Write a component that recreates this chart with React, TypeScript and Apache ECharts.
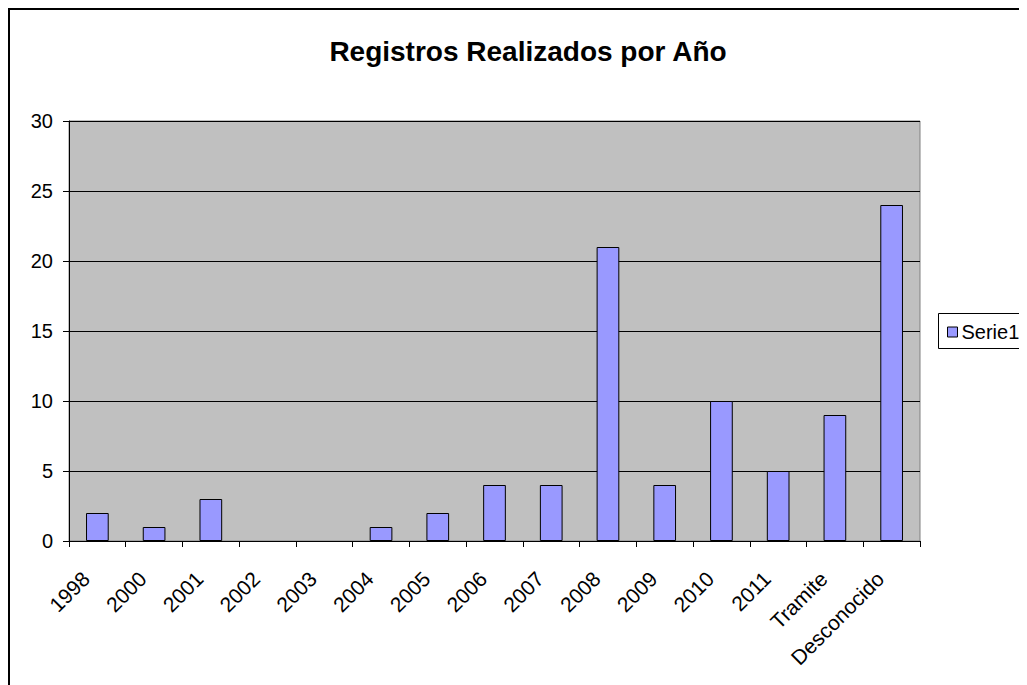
import React, { useEffect, useRef } from "react";
import * as echarts from "echarts";

const categories = ["1998", "2000", "2001", "2002", "2003", "2004", "2005", "2006", "2007", "2008", "2009", "2010", "2011", "Tramite", "Desconocido"];
const serie1 = [2, 1, 3, 0, 0, 1, 2, 4, 4, 21, 4, 10, 5, 9, 24];
const titleText = "Registros Realizados por Año";
const seriesName = "Serie1";

const FONT = "'Liberation Sans', Arial, sans-serif";

export default function App() {
  const ref = useRef<HTMLDivElement>(null);
  useEffect(() => {
    if (!ref.current) return;
    const chart = echarts.init(ref.current, null, { renderer: "svg" });
    chart.setOption({
      animation: false,
      backgroundColor: "#ffffff",
      title: {
        text: titleText,
        left: 515,
        textAlign: "center",
        top: 24,
        textStyle: { fontFamily: FONT, fontSize: 28, fontWeight: "bold", color: "#000" },
      },
      legend: {
        left: 939,
        top: 314,
        padding: 0,
        itemWidth: 10,
        itemHeight: 10,
        icon: "rect",
        data: [{ name: seriesName, itemStyle: { color: "#9999FF", borderColor: "#000", borderWidth: 1 } }],
        textStyle: { fontFamily: FONT, fontSize: 20, color: "#000", lineHeight: 20, padding: [0, 0, 0, -1] },
      },
      graphic: [
        { type: "rect", shape: { x: 1, y: 1, width: 1100, height: 800 }, style: { fill: "none", stroke: "#000", lineWidth: 2 }, silent: true },
        { type: "rect", shape: { x: 930.5, y: 305.5, width: 150, height: 35 }, style: { fill: "none", stroke: "#000", lineWidth: 1 }, silent: true },
      ],
      grid: {
        left: 61,
        right: 107,
        top: 113,
        bottom: 144,
        show: true,
        backgroundColor: "#C0C0C0",
        borderColor: "#808080",
        borderWidth: 1,
      },
      xAxis: {
        type: "category",
        data: categories,
        boundaryGap: true,
        axisLine: { lineStyle: { color: "#000", width: 1 } },
        axisTick: { show: true, length: 6, alignWithLabel: false, lineStyle: { color: "#000" } },
        axisLabel: {
          rotate: 45,
          interval: 0,
          margin: 23,
          fontFamily: FONT,
          fontSize: 21,
          color: "#000",
          padding: [0, 16, 0, 0],
        },
      },
      yAxis: {
        type: "value",
        min: 0,
        max: 30,
        interval: 5,
        axisLine: { show: true, lineStyle: { color: "#000", width: 1 } },
        axisTick: { show: true, length: 6, lineStyle: { color: "#000" } },
        splitLine: { show: true, lineStyle: { color: "#000", width: 1 } },
        axisLabel: { margin: 16, fontFamily: FONT, fontSize: 20, color: "#000" },
      },
      series: [
        {
          name: seriesName,
          type: "bar",
          data: serie1.map((v) => (v === 0 ? { value: v, itemStyle: { borderWidth: 0 } } : v)),
          barWidth: "40%",
          itemStyle: { color: "#9999FF", borderColor: "#000", borderWidth: 1 },
        },
      ],
    });
    return () => chart.dispose();
  }, []);
  return <div ref={ref} style={{ width: 1019, height: 677 }} />;
}
